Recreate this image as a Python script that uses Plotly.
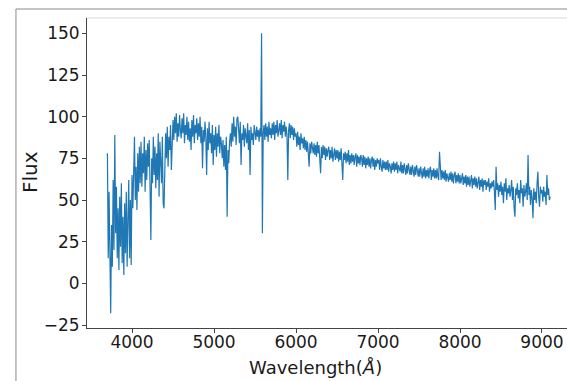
import numpy as np
import plotly.graph_objects as go

# Wavelength grid (Angstrom): start, step
WAVE_START = 3700
WAVE_STEP = 10

# Flux values, 10 per 100 Angstrom block
flux_blocks = [
    [78, 15, 55, -2, -18, 35, 10, 62, 20, 89],      # 3700
    [30, 58, 15, 45, 8, 52, 22, 60, 12, 40],        # 3800
    [5, 48, 18, 55, 10, 38, 62, 15, 50, 11],        # 3900
    [65, 45, 72, 88, 50, 70, 44, 78, 55, 82],       # 4000
    [60, 85, 58, 78, 66, 88, 55, 80, 62, 84],       # 4100
    [70, 86, 58, 26, 75, 60, 88, 65, 82, 57],       # 4200
    [78, 62, 90, 52, 85, 70, 60, 88, 48, 45],       # 4300
    [72, 90, 75, 94, 70, 88, 80, 95, 68, 92],       # 4400
    [98, 86, 100, 90, 102, 85, 96, 88, 101, 92],    # 4500
    [87, 99, 90, 102, 84, 95, 89, 100, 86, 97],     # 4600
    [85, 93, 80, 98, 88, 101, 84, 95, 90, 99],      # 4700
    [86, 96, 88, 100, 84, 94, 69, 92, 85, 97],      # 4800
    [88, 65, 93, 80, 97, 84, 90, 78, 95, 71],       # 4900
    [89, 80, 94, 76, 90, 82, 95, 78, 88, 84],       # 5000
    [75, 86, 70, 83, 68, 88, 40, 80, 72, 85],       # 5100
    [90, 82, 96, 85, 100, 88, 94, 83, 99, 100],     # 5200
    [92, 84, 97, 71, 90, 86, 95, 82, 93, 88],       # 5300
    [84, 96, 80, 92, 65, 94, 86, 90, 83, 95],       # 5400
    [90, 86, 94, 88, 92, 85, 93, 88, 150, 30],      # 5500
    [90, 95, 86, 96, 88, 94, 85, 97, 89, 93],       # 5600
    [87, 96, 89, 97, 86, 95, 90, 98, 88, 94],       # 5700
    [96, 89, 98, 87, 95, 91, 97, 88, 94, 89],       # 5800
    [62, 92, 96, 87, 95, 89, 94, 86, 93, 88],       # 5900
    [90, 82, 91, 83, 88, 80, 90, 84, 87, 81],       # 6000
    [88, 80, 86, 79, 85, 78, 70, 84, 78, 85],       # 6100
    [82, 78, 84, 77, 83, 76, 85, 78, 83, 75],       # 6200
    [66, 82, 75, 83, 77, 82, 74, 81, 76, 80],       # 6300
    [82, 74, 80, 75, 82, 73, 79, 81, 74, 80],       # 6400
    [75, 80, 73, 79, 74, 81, 72, 62, 78, 74],       # 6500
    [79, 72, 78, 73, 80, 71, 77, 72, 78, 73],       # 6600
    [77, 71, 76, 78, 70, 77, 72, 76, 71, 77],       # 6700
    [75, 70, 77, 71, 76, 69, 75, 71, 76, 70],       # 6800
    [75, 69, 74, 76, 70, 75, 68, 74, 70, 75],       # 6900
    [72, 74, 68, 75, 70, 67, 74, 69, 73, 68],       # 7000
    [73, 68, 74, 67, 72, 70, 66, 72, 68, 73],       # 7100
    [67, 72, 68, 73, 66, 71, 69, 67, 73, 66],       # 7200
    [71, 66, 72, 67, 65, 71, 66, 72, 67, 65],       # 7300
    [70, 65, 71, 66, 64, 70, 65, 71, 66, 64],       # 7400
    [69, 64, 70, 65, 63, 69, 64, 70, 63, 68],       # 7500
    [64, 69, 63, 68, 70, 62, 68, 64, 69, 63],       # 7600
    [68, 63, 69, 64, 62, 79, 64, 62, 68, 63],       # 7700
    [67, 62, 68, 61, 66, 64, 61, 66, 62, 67],       # 7800
    [61, 66, 60, 65, 67, 60, 65, 61, 66, 60],       # 7900
    [65, 60, 64, 66, 59, 64, 60, 65, 58, 64],       # 8000
    [59, 64, 58, 63, 65, 57, 63, 59, 64, 58],       # 8100
    [63, 57, 62, 64, 56, 62, 58, 63, 55, 62],       # 8200
    [59, 62, 56, 61, 58, 63, 55, 60, 57, 61],       # 8300
    [58, 62, 55, 44, 70, 56, 60, 52, 59, 55],       # 8400
    [61, 53, 58, 48, 60, 55, 63, 50, 57, 54],       # 8500
    [59, 52, 56, 62, 50, 58, 45, 40, 57, 53],       # 8600
    [60, 51, 56, 48, 62, 54, 57, 46, 59, 52],       # 8700
    [55, 60, 50, 77, 53, 58, 47, 56, 51, 39],       # 8800
    [57, 50, 55, 48, 60, 67, 52, 46, 58, 54],       # 8900
    [56, 49, 58, 52, 55, 47, 65, 53, 57, 50],       # 9000
    [52],                                           # 9100
]
flux = [v for block in flux_blocks for v in block]
wavelength = WAVE_START + WAVE_STEP * np.arange(len(flux))

x_ticks = [4000, 5000, 6000, 7000, 8000, 9000]
y_ticks = [-25, 0, 25, 50, 75, 100, 125, 150]
y_tick_text = ["\u221225", "0", "25", "50", "75", "100", "125", "150"]

fig = go.Figure()
fig.add_trace(go.Scatter(
    x=wavelength, y=flux, mode="lines",
    line=dict(color="#1f77b4", width=1.2),
    showlegend=False, hoverinfo="skip",
))

font = "DejaVu Sans, sans-serif"
ink = "#1a1a1a"
fig.update_layout(
    width=567, height=381,
    margin=dict(l=87, r=0, t=18, b=53),
    paper_bgcolor="white", plot_bgcolor="white",
    font=dict(family=font, size=17, color=ink),
    xaxis=dict(
        range=[3451, 9305], tickvals=x_ticks,
        ticks="outside", ticklen=4, tickwidth=1, tickcolor="#444",
        ticklabelstandoff=-5,
        showgrid=False, zeroline=False,
        showline=True, linecolor="#444", linewidth=1,
        tickfont=dict(size=17, family=font, color=ink),
    ),
    yaxis=dict(
        range=[-26.8, 159.2], tickvals=y_ticks, ticktext=y_tick_text,
        ticks="outside", ticklen=4, tickwidth=1, tickcolor="#444",
        ticklabelstandoff=-1,
        showgrid=False, zeroline=False,
        showline=True, linecolor="#444", linewidth=1,
        tickfont=dict(size=17, family=font, color=ink),
    ),
    annotations=[
        dict(text="Wavelength(<i>Å</i>)", xref="paper", yref="paper",
             x=0.477, y=-0.128, xanchor="center", yanchor="middle",
             showarrow=False, font=dict(size=18, family=font, color=ink)),
        dict(text="Flux", xref="paper", yref="paper",
             x=-0.119, y=0.503, xanchor="center", yanchor="middle", textangle=-90,
             showarrow=False, font=dict(size=20, family=font, color=ink)),
    ],
    shapes=[
        # outer frame of the screenshot
        dict(type="line", xref="paper", yref="paper", x0=-0.148, x1=-0.148, y0=-0.2, y1=1.029,
             line=dict(color="#8a8a8a", width=1)),
        dict(type="line", xref="paper", yref="paper", x0=-0.148, x1=1.0, y0=1.029, y1=1.029,
             line=dict(color="#8a8a8a", width=1)),
        # faint top edge of the axes
        dict(type="line", xref="paper", yref="paper", x0=0, x1=1, y0=1, y1=1,
             line=dict(color="#ececec", width=2)),
    ],
)

fig.write_html("out.html")
